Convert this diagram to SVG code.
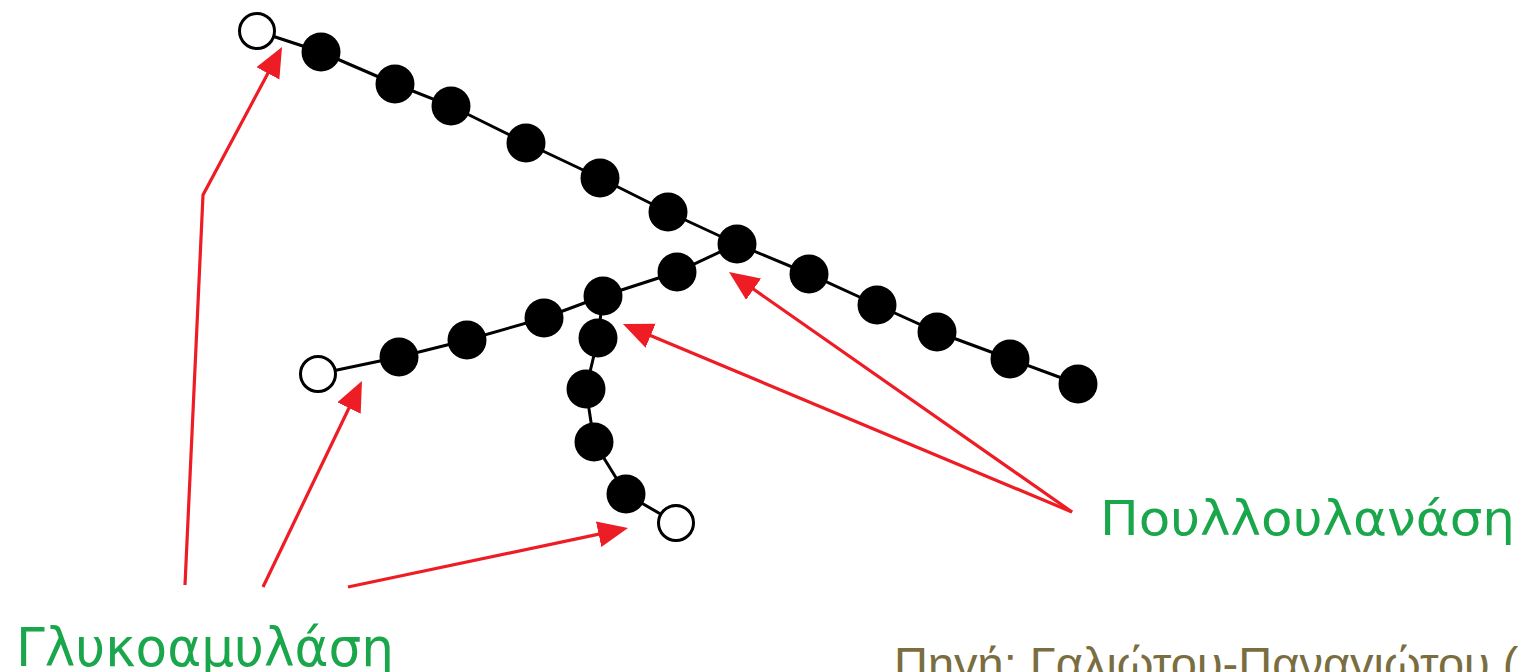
<svg xmlns="http://www.w3.org/2000/svg" width="1529" height="672" viewBox="0 0 1529 672">
<style>
.bond{stroke:#000;stroke-width:3;fill:none}
.f{fill:#000}
.o{fill:#fff;stroke:#000;stroke-width:3}
.arr{stroke:#ee1c24;stroke-width:3.2;fill:none;marker-end:url(#ah)}
.lab{font-family:"DejaVu Sans","Liberation Sans",sans-serif;fill:#1aa64b}
.src{font-family:"Liberation Sans",Arial,sans-serif;fill:#7a6e40}
</style>
<defs>
<marker id="ah" markerUnits="userSpaceOnUse" markerWidth="32" markerHeight="28" refX="10" refY="13" orient="auto">
<path d="M0,0 L30,13 L0,26 z" fill="#ee1c24"/>
</marker>
</defs>
<rect width="1529" height="672" fill="#fff"/>
<g id="bonds">
<polyline class="bond" points="257,31 321,52 395,84 451,106 526,143 600,178 668,212 737,244 809,274 877,305 937,332 1010,359 1078,384"/>
<polyline class="bond" points="737,244 677,272 603,296 544,318 467,340 399,357 318,374"/>
<polyline class="bond" points="603,296 598,338 586,389 594,442 626,494 676,523"/>
</g>
<g id="main-chain">
<circle class="o" cx="257" cy="31" r="17.5"/>
<circle class="f" cx="321" cy="52" r="19.5"/>
<circle class="f" cx="395" cy="84" r="19.5"/>
<circle class="f" cx="451" cy="106" r="19.5"/>
<circle class="f" cx="526" cy="143" r="19.5"/>
<circle class="f" cx="600" cy="178" r="19.5"/>
<circle class="f" cx="668" cy="212" r="19.5"/>
<circle class="f" cx="737" cy="244" r="19.5"/>
<circle class="f" cx="809" cy="274" r="19.5"/>
<circle class="f" cx="877" cy="305" r="19.5"/>
<circle class="f" cx="937" cy="332" r="19.5"/>
<circle class="f" cx="1010" cy="359" r="19.5"/>
<circle class="f" cx="1078" cy="384" r="19.5"/>
</g>
<g id="branch-1">
<circle class="f" cx="677" cy="272" r="19.5"/>
<circle class="f" cx="603" cy="296" r="19.5"/>
<circle class="f" cx="544" cy="318" r="19.5"/>
<circle class="f" cx="467" cy="340" r="19.5"/>
<circle class="f" cx="399" cy="357" r="19.5"/>
<circle class="o" cx="318" cy="374" r="17.5"/>
</g>
<g id="branch-2">
<circle class="f" cx="598" cy="338" r="19.5"/>
<circle class="f" cx="586" cy="389" r="19.5"/>
<circle class="f" cx="594" cy="442" r="19.5"/>
<circle class="f" cx="626" cy="494" r="19.5"/>
<circle class="o" cx="676" cy="523" r="17.5"/>
</g>
<g id="connectors">
<polyline class="arr" points="185,585 203,195 272.6,64.6"/>
<line class="arr" x1="263" y1="587" x2="353.3" y2="399"/>
<line class="arr" x1="348" y1="587" x2="608.4" y2="532.1"/>
<line class="arr" x1="1072" y1="512" x2="745.4" y2="283.5"/>
<line class="arr" x1="1072" y1="512" x2="641.4" y2="331.8"/>
</g>
<g id="label-glucoamylase">
<text class="lab" x="16" y="666" font-size="54" textLength="378" lengthAdjust="spacingAndGlyphs">Γλυκοαμυλάση</text>
</g>
<g id="label-pullulanase">
<text class="lab" x="1100" y="535" font-size="48" textLength="415" lengthAdjust="spacingAndGlyphs">Πουλλουλανάση</text>
</g>
<g id="source">
<text class="src" x="894" y="680" font-size="47">Πηγή: Γαλιώτου-Παναγιώτου (</text>
</g>
</svg>
